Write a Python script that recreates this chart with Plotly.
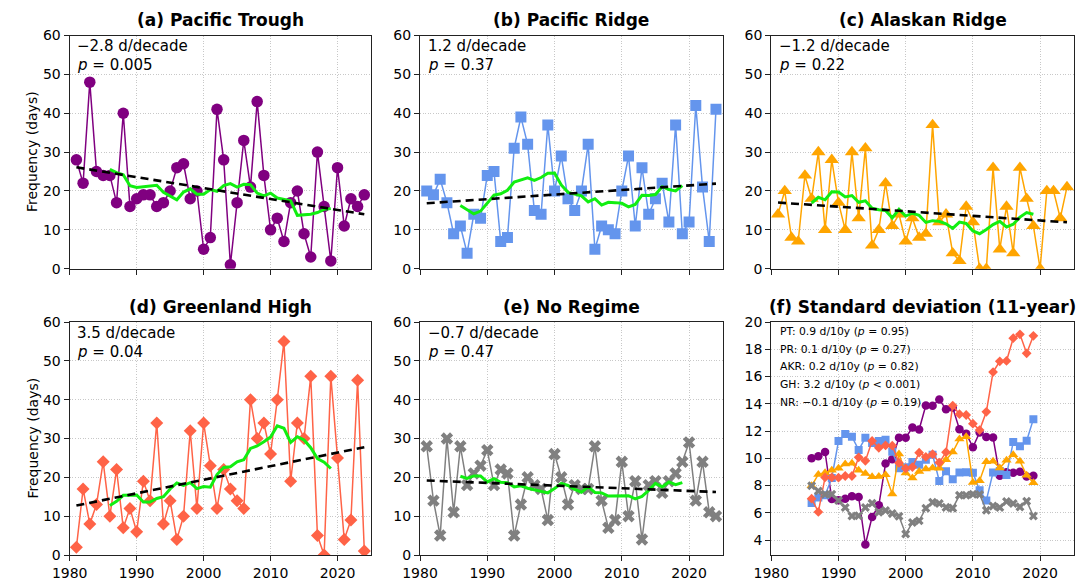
import numpy as np
import pandas as pd
import plotly.graph_objects as go

years = list(range(1981, 2025))
PT = [28, 22, 48, 25, 24, 24, 17, 40, 16, 18, 19, 19, 16, 17, 20, 26, 27, 18, 20, 5,
      8, 41, 28, 1, 17, 33, 21, 43, 24, 10, 13, 7, 17, 20, 9, 3, 30, 16, 2, 26,
      11, 18, 16, 19]
PR = [20, 19, 23, 17, 9, 11, 4, 14, 13, 24, 25, 7, 8, 31, 39, 32, 15, 14, 37, 20,
      29, 18, 15, 20, 32, 5, 11, 10, 9, 20, 29, 11, 26, 14, 18, 22, 12, 37, 9, 12,
      42, 21, 7, 41]
AKR = [14, 20, 8, 7, 24, 18, 30, 10, 28, 17, 10, 30, 13, 31, 6, 10, 22, 11, 14, 7,
       13, 8, 9, 37, 12, 14, 4, 2, 16, 12, 0, 0, 26, 5, 16, 4, 26, 18, 11, 0,
       20, 20, 13, 21]
GH = [2, 17, 8, 13, 24, 10, 22, 7, 12, 6, 19, 14, 34, 8, 14, 4, 10, 32, 12, 34,
      23, 12, 22, 17, 14, 12, 40, 30, 34, 26, 40, 55, 19, 34, 30, 46, 5, 0, 46, 25,
      4, 9, 45, 1]
NR = [28, 14, 5, 30, 11, 28, 18, 21, 23, 27, 18, 22, 21, 5, 13, 20, 18, 17, 9, 26,
      20, 13, 18, 17, 17, 28, 14, 7, 9, 24, 10, 19, 4, 18, 19, 16, 19, 21, 24, 29,
      14, 24, 11, 10]

titles = ["(a) Pacific Trough", "(b) Pacific Ridge", "(c) Alaskan Ridge",
          "(d) Greenland High", "(e) No Regime", "(f) Standard deviation (11-year)"]
trend_texts = ["−2.8 d/decade", "1.2 d/decade", "−1.2 d/decade", "3.5 d/decade", "−0.7 d/decade"]
p_texts = ["0.005", "0.37", "0.22", "0.04", "0.47"]
sd_labels = ["PT: 0.9 d/10y (<i>p</i> = 0.95)",
             "PR: 0.1 d/10y (<i>p</i> = 0.27)",
             "AKR: 0.2 d/10y (<i>p</i> = 0.82)",
             "GH: 3.2 d/10y (<i>p</i> &lt; 0.001)",
             "NR: −0.1 d/10y (<i>p</i> = 0.19)"]
x_ticks = [1980, 1990, 2000, 2010, 2020]
freq_ticks = [0, 10, 20, 30, 40, 50, 60]
sd_ticks = [4, 6, 8, 10, 12, 14, 16, 18, 20]

series = [PT, PR, AKR, GH, NR]
colors = ["#800080", "#6495ED", "#FFA500", "#FF6347", "#808080"]
symbols = ["circle", "square", "triangle-up", "diamond", "x"]
msizes = [11.5, 11, 12.5, 10, 11]
fsizes = [8.5, 8, 9, 7.5, 8]

# page has an 8px body margin; figure is sized so it fills the rest of the window
OFF = 8
W, H = 1085 - OFF, 584 - OFF
cols_px = [(69.7, 371.0), (420.0, 722.7), (771.3, 1073.7)]
rows_px = [(35.5, 268.7), (322.0, 555.0)]
FONT = "DejaVu Sans"


def px(x):
    return (x - OFF) / W


def py(y):
    return 1 - (y - OFF) / H


def xd(c):
    return [px(cols_px[c][0]), px(cols_px[c][1])]


def yd(r):
    return [py(rows_px[r][1]), py(rows_px[r][0])]


fig = go.Figure()
annotations = []
layout = {}

for i in range(6):
    r, c = i // 3, i % 3
    k = i + 1
    xs = "x" if k == 1 else f"x{k}"
    ys = "y" if k == 1 else f"y{k}"
    axis_common = dict(showline=True, linecolor="#222222", linewidth=1.3, mirror=True,
                       ticks="outside", ticklen=5, tickwidth=1.1, tickcolor="#222222",
                       showgrid=True, gridcolor="#c8c8c8", griddash="1px,1.6px", gridwidth=0.9,
                       zeroline=False, automargin=False,
                       tickfont=dict(family=FONT, size=14, color="black"))
    layout["xaxis" if k == 1 else f"xaxis{k}"] = dict(
        domain=xd(c), anchor=ys, range=[1980, 2025], tickvals=x_ticks,
        showticklabels=(r == 1), **axis_common)
    if i < 5:
        yax = dict(domain=yd(r), anchor=xs, range=[0, 60], tickvals=freq_ticks, **axis_common)
    else:
        yax = dict(domain=yd(r), anchor=xs, range=[2.9, 20.0], tickvals=sd_ticks, **axis_common)
    layout["yaxis" if k == 1 else f"yaxis{k}"] = yax

    # title
    annotations.append(dict(text=f"<b>{titles[i]}</b>", xref="paper", yref="paper",
                            x=(xd(c)[0] + xd(c)[1]) / 2, y=py(rows_px[r][0] - 15.5),
                            xanchor="center", yanchor="middle", showarrow=False,
                            font=dict(family=FONT, size=17, color="black")))

    if i < 5:
        vals = series[i]
        s = pd.Series(vals, index=years, dtype=float)
        rm = s.rolling(11, center=True).mean().dropna()
        coef = np.polyfit(years, vals, 1)
        trend = np.polyval(coef, years)
        fig.add_trace(go.Scatter(x=years, y=vals, mode="lines+markers", xaxis=xs, yaxis=ys,
                                 line=dict(color=colors[i], width=1.5),
                                 marker=dict(symbol=symbols[i], size=msizes[i], color=colors[i],
                                             line=dict(width=0)),
                                 showlegend=False))
        fig.add_trace(go.Scatter(x=list(rm.index), y=list(rm.values), mode="lines",
                                 xaxis=xs, yaxis=ys, line=dict(color="#11ee11", width=3),
                                 showlegend=False))
        fig.add_trace(go.Scatter(x=years, y=list(trend), mode="lines", xaxis=xs, yaxis=ys,
                                 line=dict(color="black", width=2.6, dash="8px,5px"),
                                 showlegend=False))
        x0 = cols_px[c][0] + 5.5
        y0 = rows_px[r][0] + 10.5
        annotations.append(dict(text=trend_texts[i], xref="paper", yref="paper",
                                x=px(x0), y=py(y0), xanchor="left", yanchor="middle",
                                showarrow=False, font=dict(family=FONT, size=15, color="black")))
        annotations.append(dict(text=f"<i>p</i> = {p_texts[i]}", xref="paper", yref="paper",
                                x=px(x0), y=py(y0 + 19.5), xanchor="left", yanchor="middle",
                                showarrow=False, font=dict(family=FONT, size=15, color="black")))
    else:
        for j, vals in enumerate(series):
            s = pd.Series(vals, index=years, dtype=float)
            sd = s.rolling(11, center=True).std().dropna()
            fig.add_trace(go.Scatter(x=list(sd.index), y=list(sd.values), mode="lines+markers",
                                     xaxis=xs, yaxis=ys,
                                     line=dict(color=colors[j], width=1.5),
                                     marker=dict(symbol=symbols[j], size=fsizes[j], color=colors[j],
                                                 line=dict(width=0)),
                                     showlegend=False))
        for j, lab in enumerate(sd_labels):
            annotations.append(dict(text=lab, xref="paper", yref="paper",
                                    x=px(777.5), y=py(331.7 + 17.6 * j), xanchor="left",
                                    yanchor="middle", showarrow=False,
                                    font=dict(family=FONT, size=10.8, color="black")))

for yc in [(rows_px[0][0] + rows_px[0][1]) / 2, (rows_px[1][0] + rows_px[1][1]) / 2]:
    annotations.append(dict(text="Frequency (days)", xref="paper", yref="paper",
                            x=px(32), y=py(yc), xanchor="center", yanchor="middle",
                            textangle=-90, showarrow=False,
                            font=dict(family=FONT, size=14, color="black")))

fig.update_layout(width=W, height=H, margin=dict(l=0, r=0, t=0, b=0, autoexpand=False),
                  paper_bgcolor="white", plot_bgcolor="white",
                  annotations=annotations, **layout)
fig.write_html("out.html")
